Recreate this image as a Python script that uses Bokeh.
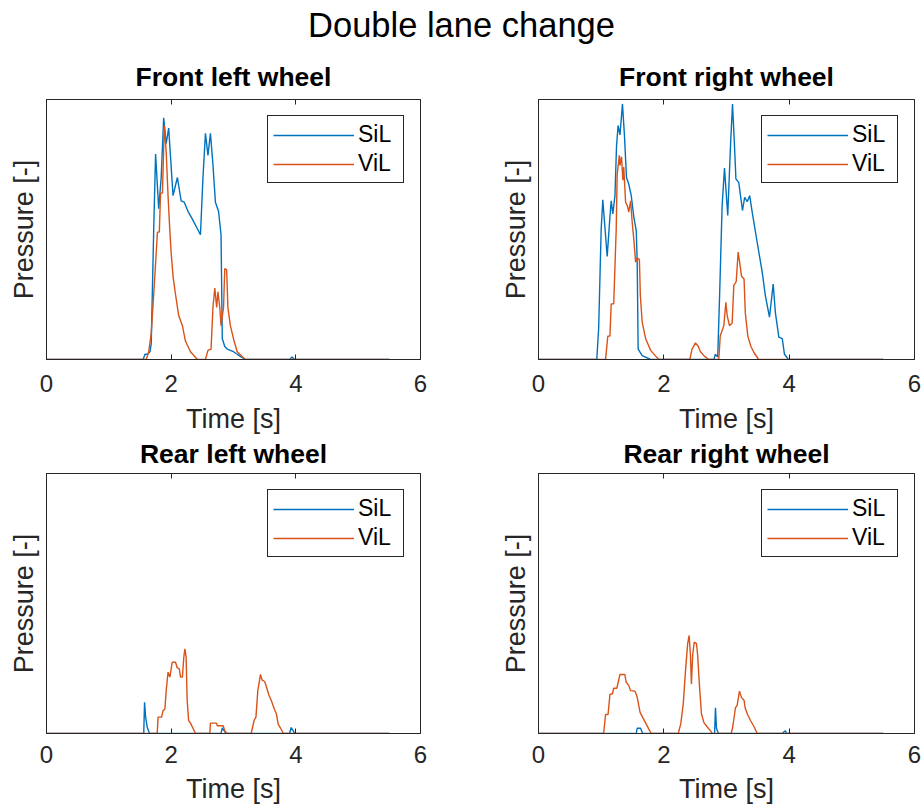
from bokeh.plotting import figure
from bokeh.layouts import column, row
from bokeh.models import Range1d, LinearAxis, FixedTicker, Legend, LegendItem, Title
from bokeh.core.properties import value
from bokeh.embed import file_html
from bokeh.resources import INLINE

# ---------------- data (time in s, normalised pressure) ----------------
fl_sil_t = [0, 1.55, 1.58, 1.62, 1.66, 1.68, 1.72, 1.75, 1.80, 1.84, 1.88, 1.92, 1.96, 2.03, 2.10, 2.16, 2.21, 2.27, 2.34, 2.47, 2.51, 2.55, 2.59, 2.63, 2.67, 2.71, 2.76, 2.80, 2.82, 2.86, 2.90, 3.00, 3.06, 3.19, 3.90, 3.94, 3.98, 5.5]
fl_sil_p = [0, 0, 0.02, 0.02, 0.03, 0.06, 0.50, 0.79, 0.58, 0.70, 0.93, 0.83, 0.89, 0.63, 0.70, 0.61, 0.605, 0.57, 0.54, 0.48, 0.70, 0.87, 0.785, 0.87, 0.75, 0.605, 0.57, 0.48, 0.08, 0.05, 0.04, 0.03, 0.02, 0, 0, 0.01, 0, 0]
fl_vil_t = [0, 1.60, 1.64, 1.68, 1.72, 1.78, 1.81, 1.83, 1.86, 1.89, 1.92, 1.95, 1.98, 2.00, 2.03, 2.07, 2.12, 2.18, 2.23, 2.31, 2.42, 2.55, 2.59, 2.64, 2.67, 2.70, 2.73, 2.75, 2.78, 2.80, 2.84, 2.86, 2.89, 2.91, 2.95, 3.01, 3.06, 3.19, 5.5]
fl_vil_p = [0, 0, 0.03, 0.10, 0.25, 0.49, 0.49, 0.64, 0.64, 0.90, 0.80, 0.63, 0.49, 0.41, 0.32, 0.25, 0.17, 0.13, 0.07, 0.03, 0, 0, 0.035, 0.04, 0.20, 0.275, 0.20, 0.26, 0.20, 0.13, 0.20, 0.35, 0.345, 0.20, 0.13, 0.07, 0.03, 0, 0]

fr_sil_t = [0, 0.93, 0.96, 1.00, 1.026, 1.096, 1.14, 1.16, 1.186, 1.22, 1.245, 1.27, 1.30, 1.34, 1.372, 1.404, 1.44, 1.48, 1.52, 1.56, 1.575, 1.59, 1.655, 1.79, 2.80, 2.82, 2.86, 2.89, 2.93, 2.968, 3.02, 3.064, 3.096, 3.128, 3.15, 3.196, 3.255, 3.29, 3.33, 3.37, 3.41, 3.49, 3.57, 3.62, 3.686, 3.745, 3.78, 3.835, 3.89, 3.925, 3.99, 5.5]
fr_sil_p = [0, 0, 0.12, 0.50, 0.614, 0.396, 0.55, 0.61, 0.56, 0.63, 0.82, 0.90, 0.864, 0.983, 0.86, 0.70, 0.675, 0.63, 0.55, 0.496, 0.374, 0.04, 0.015, 0, 0, 0.02, 0.01, 0.246, 0.59, 0.736, 0.554, 0.823, 0.983, 0.82, 0.695, 0.68, 0.573, 0.624, 0.607, 0.63, 0.567, 0.45, 0.336, 0.246, 0.163, 0.29, 0.18, 0.086, 0.08, 0.02, 0, 0]
fr_vil_t = [0, 1.07, 1.106, 1.14, 1.16, 1.20, 1.24, 1.255, 1.29, 1.30, 1.325, 1.346, 1.36, 1.39, 1.42, 1.44, 1.47, 1.495, 1.52, 1.55, 1.575, 1.61, 1.625, 1.655, 1.71, 1.79, 1.87, 1.92, 2.415, 2.45, 2.505, 2.55, 2.585, 2.65, 2.717, 2.877, 2.90, 2.957, 2.99, 3.01, 3.047, 3.09, 3.117, 3.155, 3.186, 3.21, 3.24, 3.28, 3.30, 3.34, 3.39, 3.44, 3.513, 5.5]
fr_vil_p = [0, 0, 0.09, 0.09, 0.214, 0.214, 0.50, 0.71, 0.785, 0.746, 0.78, 0.69, 0.74, 0.605, 0.59, 0.567, 0.61, 0.528, 0.464, 0.374, 0.39, 0.385, 0.246, 0.143, 0.08, 0.035, 0.013, 0, 0, 0.04, 0.064, 0.05, 0.03, 0.012, 0, 0, 0.09, 0.13, 0.22, 0.17, 0.13, 0.14, 0.285, 0.30, 0.413, 0.374, 0.32, 0.31, 0.18, 0.09, 0.05, 0.026, 0, 0]

rl_sil_t = [0, 1.56, 1.573, 1.59, 1.616, 1.653, 2.80, 2.82, 2.88, 3.90, 3.925, 3.96, 3.98, 5.5]
rl_sil_p = [0, 0, 0.12, 0.063, 0.024, 0, 0, 0.022, 0, 0, 0.023, 0.01, 0, 0]
rl_vil_t = [0, 1.776, 1.79, 1.845, 1.87, 1.90, 1.92, 1.95, 1.98, 2.016, 2.07, 2.096, 2.13, 2.15, 2.18, 2.203, 2.22, 2.24, 2.257, 2.28, 2.31, 2.35, 2.39, 2.62, 2.63, 2.727, 2.74, 2.835, 2.86, 2.90, 3.284, 3.33, 3.36, 3.39, 3.433, 3.46, 3.50, 3.53, 3.57, 3.605, 3.65, 3.69, 3.717, 3.75, 3.80, 5.5]
rl_vil_p = [0, 0, 0.063, 0.063, 0.088, 0.094, 0.165, 0.236, 0.217, 0.274, 0.274, 0.253, 0.249, 0.217, 0.217, 0.294, 0.326, 0.294, 0.127, 0.05, 0.04, 0.02, 0, 0, 0.04, 0.04, 0.03, 0.03, 0.01, 0, 0, 0.05, 0.063, 0.165, 0.227, 0.205, 0.20, 0.178, 0.146, 0.128, 0.097, 0.074, 0.036, 0.023, 0, 0]

rr_sil_t = [0, 1.56, 1.575, 1.63, 1.66, 2.81, 2.824, 2.84, 2.87, 3.89, 3.915, 3.94, 3.96, 5.5]
rr_sil_p = [0, 0, 0.02, 0.02, 0, 0, 0.099, 0.02, 0, 0, 0.006, 0.01, 0, 0]
rr_vil_t = [0, 1.04, 1.07, 1.11, 1.14, 1.18, 1.20, 1.25, 1.30, 1.377, 1.40, 1.44, 1.468, 1.54, 1.575, 1.62, 1.66, 1.707, 1.76, 1.80, 2.23, 2.27, 2.31, 2.346, 2.38, 2.404, 2.425, 2.44, 2.46, 2.484, 2.52, 2.54, 2.57, 2.60, 2.64, 2.69, 2.745, 2.77, 3.075, 3.10, 3.143, 3.17, 3.207, 3.24, 3.28, 3.30, 3.34, 3.383, 3.44, 3.49, 5.5]
rr_vil_p = [0, 0, 0.073, 0.073, 0.15, 0.153, 0.174, 0.174, 0.227, 0.227, 0.197, 0.185, 0.165, 0.163, 0.14, 0.082, 0.063, 0.042, 0.017, 0, 0, 0.037, 0.114, 0.242, 0.345, 0.377, 0.30, 0.19, 0.30, 0.351, 0.347, 0.30, 0.178, 0.076, 0.042, 0.026, 0.01, 0, 0, 0.026, 0.099, 0.108, 0.163, 0.138, 0.128, 0.096, 0.071, 0.05, 0.026, 0, 0]

x_ticks = [0, 2, 4, 6]
series_names = ["SiL", "ViL"]
main_title = "Double lane change"
panel_titles = ["Front left wheel", "Front right wheel", "Rear left wheel", "Rear right wheel"]
x_label = "Time [s]"
y_label = "Pressure [-]"

# ---------------- style ----------------
FONT = "Liberation Sans"
BLUE = "#0072BD"
ORANGE = "#D95319"
AX = "#262626"


def style_title(t, standoff):
    t.text_font = FONT
    t.text_font_size = "26.5px"
    t.text_font_style = "bold"
    t.text_color = "black"
    t.align = "center"
    t.standoff = standoff


def make_panel(top_title, below_title, sil_t, sil_p, vil_t, vil_p,
               width, height, bl, br, bt, bb, tick_sd, label_sd):
    p = figure(width=width, height=height, x_range=Range1d(0, 6), y_range=Range1d(0, 1),
               toolbar_location=None, output_backend="svg",
               min_border_left=bl, min_border_right=br, min_border_top=bt, min_border_bottom=bb,
               x_axis_label=x_label, y_axis_label=y_label)
    p.grid.visible = False
    p.background_fill_color = "white"
    p.border_fill_color = "white"
    p.outline_line_color = AX
    p.outline_line_width = 1
    p.outline_line_alpha = 1

    if top_title:
        p.title.text = top_title
        style_title(p.title, 16)

    xa = p.xaxis[0]
    xa.ticker = FixedTicker(ticks=x_ticks)
    xa.major_tick_in = 5
    xa.major_tick_out = 0
    xa.minor_tick_line_color = None
    xa.axis_line_color = AX
    xa.major_tick_line_color = AX
    xa.major_label_text_font = FONT
    xa.major_label_text_font_size = "24px"
    xa.major_label_text_color = AX
    xa.major_label_standoff = tick_sd
    xa.axis_label_text_font = FONT
    xa.axis_label_text_font_size = "27px"
    xa.axis_label_text_font_style = "normal"
    xa.axis_label_text_color = AX
    xa.axis_label_standoff = label_sd

    ya = p.yaxis[0]
    ya.ticker = FixedTicker(ticks=[])
    ya.minor_tick_line_color = None
    ya.major_tick_line_color = None
    ya.axis_line_color = AX
    ya.major_label_standoff = 0
    ya.axis_label_text_font = FONT
    ya.axis_label_text_font_size = "27px"
    ya.axis_label_text_font_style = "normal"
    ya.axis_label_text_color = AX
    ya.axis_label_standoff = 8

    top = LinearAxis(ticker=FixedTicker(ticks=x_ticks), major_tick_in=5, major_tick_out=0,
                     minor_tick_line_color=None, axis_line_color=AX, major_tick_line_color=AX,
                     major_label_text_font_size="1px", major_label_text_color=None,
                     major_label_standoff=0)
    p.add_layout(top, "above")

    if below_title:
        bt_ = Title(text=below_title)
        style_title(bt_, 0)
        p.add_layout(bt_, "below")

    r1 = p.line(sil_t, sil_p, line_color=BLUE, line_width=1.4)
    r2 = p.line(vil_t, vil_p, line_color=ORANGE, line_width=1.4)

    leg = Legend(items=[LegendItem(label=series_names[0], renderers=[r1]),
                        LegendItem(label=series_names[1], renderers=[r2])],
                 location="top_right", margin=16, padding=5, spacing=2,
                 glyph_width=81, glyph_height=20, label_standoff=4, label_width=40,
                 label_text_font=FONT, label_text_font_size="23px", label_text_color="black",
                 border_line_color=AX, border_line_width=1, border_line_alpha=1,
                 background_fill_color="white", background_fill_alpha=1)
    p.add_layout(leg, "center")
    return p


header = figure(width=922, height=50, x_range=Range1d(0, 1), y_range=Range1d(0, 1),
                toolbar_location=None, output_backend="svg", min_border=0)
header.axis.visible = False
header.grid.visible = False
header.outline_line_color = None
header.text(x=[0.5], y=[0.52], text=[main_title], text_align="center", text_baseline="alphabetic",
            text_font=value(FONT), text_font_size="34.5px", text_color="black")

f1 = make_panel(panel_titles[0], panel_titles[2], fl_sil_t, fl_sil_p, fl_vil_t, fl_vil_p,
                492, 422, 46, 72, 49, 113, 15, 9)
f2 = make_panel(panel_titles[1], panel_titles[3], fr_sil_t, fr_sil_p, fr_vil_t, fr_vil_p,
                430, 422, 46, 8, 49, 113, 15, 9)
f3 = make_panel(None, None, rl_sil_t, rl_sil_p, rl_vil_t, rl_vil_p,
                492, 338, 46, 72, 1, 77, 12, 8)
f4 = make_panel(None, None, rr_sil_t, rr_sil_p, rr_vil_t, rr_vil_p,
                430, 338, 46, 8, 1, 77, 12, 8)

layout = column(header, row(f1, f2), row(f3, f4))
open("out.html", "w").write(file_html(layout, INLINE))
